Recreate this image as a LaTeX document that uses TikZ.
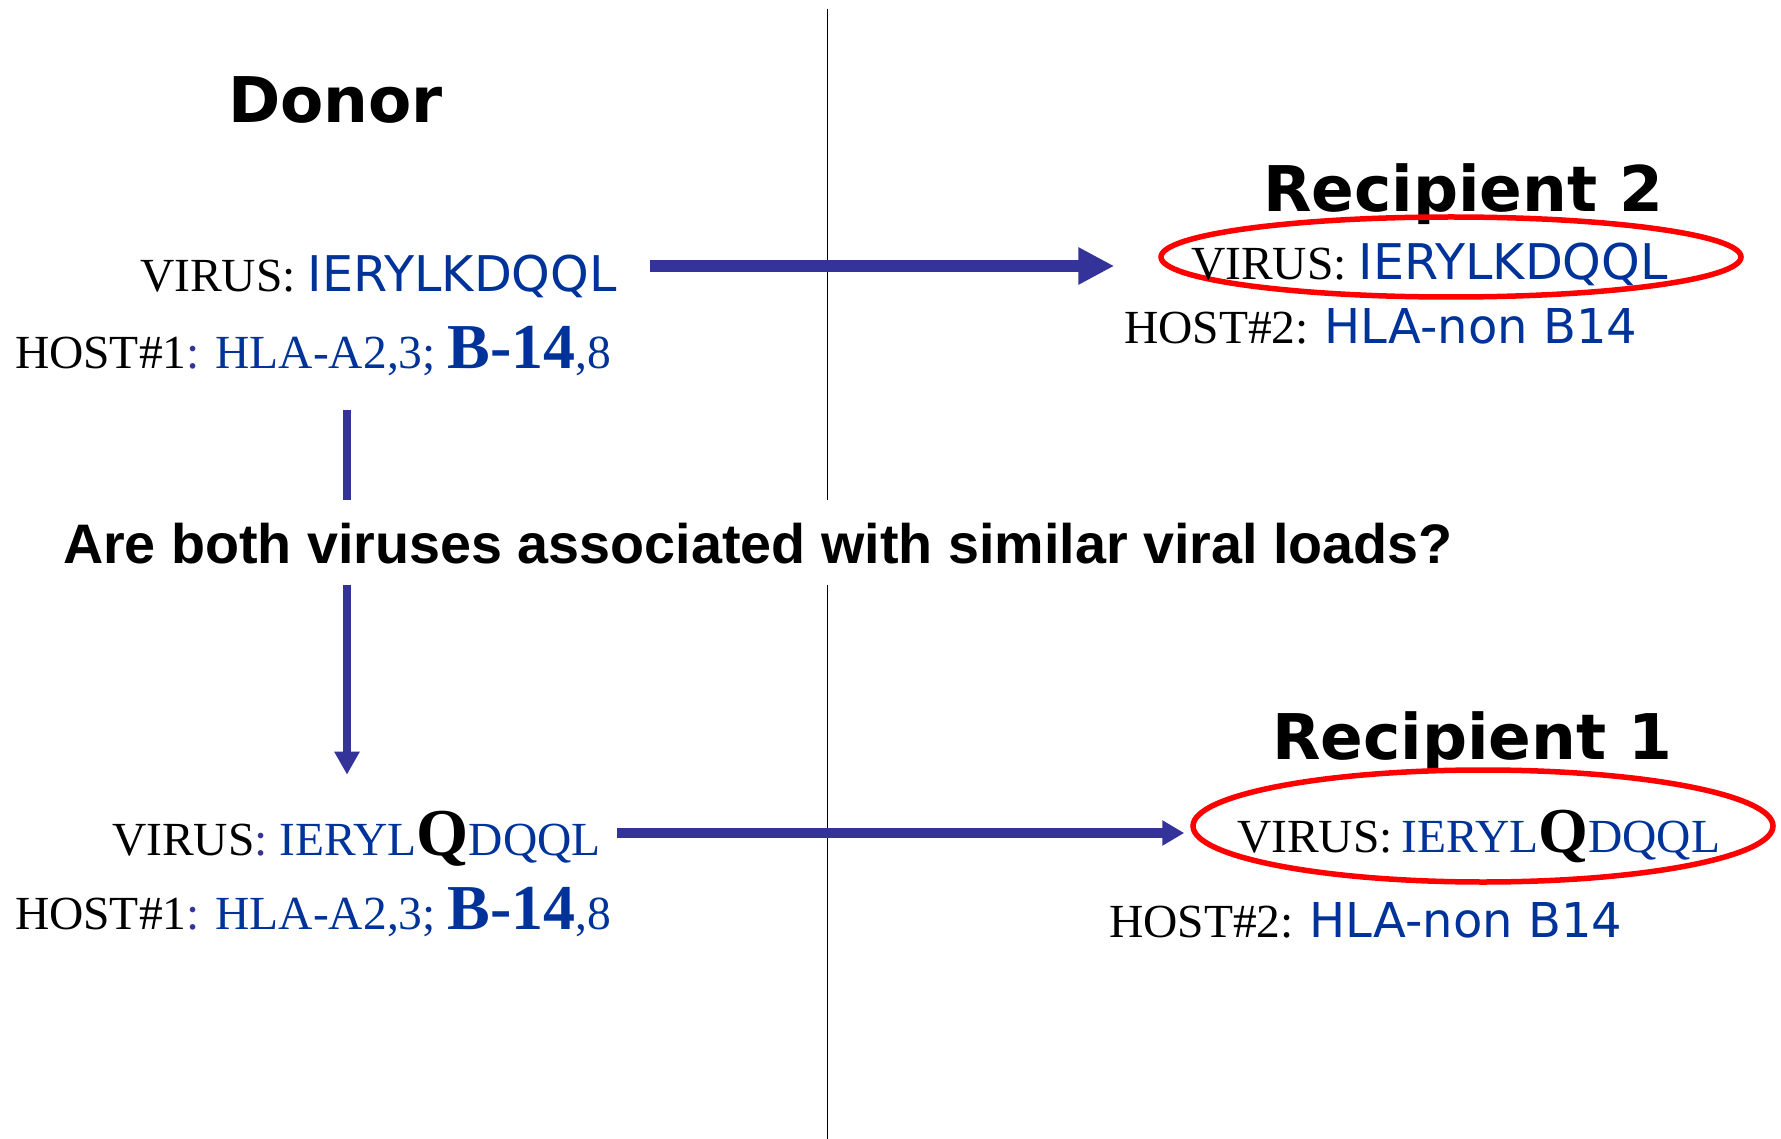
\documentclass[tikz,border=0pt]{standalone}
\usepackage{fontspec}
\setmainfont{Liberation Serif}
\newfontfamily\vsans{DejaVu Sans}
\newfontfamily\asans{Liberation Sans}
\usetikzlibrary{arrows.meta,shapes.geometric}
\definecolor{txtblue}{RGB}{0,51,153}
\definecolor{arrblue}{RGB}{51,51,153}
\newcommand\seqfont{\vsans\fontsize{49.2}{52}\selectfont\color{txtblue}}
\newcommand\hlafont{\vsans\fontsize{48}{52}\selectfont\color{txtblue}}
\newcommand\bigtimes{\bfseries\fontsize{64}{64}\selectfont}
\begin{document}
\begin{tikzpicture}[x=1pt,y=-1pt,
  txt/.style={anchor=base west, inner sep=0pt, outer sep=0pt, font=\fontsize{47.5}{50}\selectfont},
  heading/.style={anchor=base west, inner sep=0pt, outer sep=0pt, font=\vsans\bfseries\fontsize{63}{70}\selectfont},
  question/.style={anchor=base west, inner sep=0pt, outer sep=0pt, font=\asans\bfseries\fontsize{55.7}{60}\selectfont},
  ring/.style={draw=red, line width=5.5pt, ellipse, inner sep=0pt},
  bigarrow/.style={draw=arrblue, line width=12pt, -{Triangle[length=36pt,width=35pt]}},
  midarrow/.style={draw=arrblue, line width=10pt, -{Triangle[length=22pt,width=24pt]}},
  vline/.style={draw=arrblue, line width=8pt},
  divider/.style={draw=black, line width=1.8pt}]
\useasboundingbox (0,0) rectangle (1781,1139);

% divider
\draw[divider] (827.5,9) -- (827.5,500);
\draw[divider] (827.5,585) -- (827.5,1139);

% donor
\node[heading] (donor) at (228,123) {Donor};
\node[txt] (v1) at (140,292) {VIRUS: {\seqfont IERYLKDQQL}};
\node[txt] (h1) at (15,369) {HOST\#1{\color{arrblue}:} \color{txtblue}HLA-A2,3; {\bigtimes B-14},8};

% question
\node[question] (q) at (63,563) {Are both viruses associated with similar viral loads?};

% donor later
\node[txt] (v3) at (112,855) {VIRUS{\color{arrblue}:} {\color{txtblue}IERYL}{\bfseries\fontsize{67}{67}\selectfont Q}{\color{txtblue}DQQL}};
\node[txt] (h3) at (15,929) {HOST\#1{\color{arrblue}:} \color{txtblue}HLA-A2,3; {\bigtimes B-14},8};

% recipient 2
\node[heading] (r2) at (1263,212) {Recipient 2};
\node[ring, minimum width=580pt, minimum height=80pt] (e2) at (1451,257) {};
\node[txt] (v2) at (1191,280) {VIRUS: {\seqfont IERYLKDQQL}};
\node[txt] (h2) at (1124,344) {HOST\#2: {\hlafont HLA-non B14}};

% recipient 1
\node[heading] (r1) at (1272,759) {Recipient 1};
\node[ring, minimum width=580pt, minimum height=112pt] (e1) at (1483,826) {};
\node[txt] (v4) at (1237,852) {VIRUS:\hspace{0.18em}{\color{txtblue}IERYL}{\bigtimes Q}{\color{txtblue}DQQL}};
\node[txt] (h4) at (1109,937) {HOST\#2: {\hlafont HLA-non B14}};

% connectors
\draw[bigarrow, shorten <=33pt, shorten >=44pt] (v1.east |- 0,266) -- (e2.west |- 0,266);
\draw[midarrow, shorten <=16pt, shorten >=6pt] (v3.east |- 0,833) -- (e1.west |- 0,833);
\draw[vline, shorten <=34pt, shorten >=23pt] (h1.south -| 347,0) -- (q.north -| 347,0);
\draw[vline, -{Triangle[length=23pt,width=24pt]}, shorten <=21pt, shorten >=36pt] (q.south -| 347,0) -- (v3.north -| 347,0);
\end{tikzpicture}
\end{document}
